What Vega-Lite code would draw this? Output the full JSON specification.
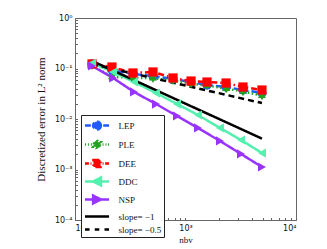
{
  "$schema": "https://vega.github.io/schema/vega-lite/v6.json",
  "autosize": {"type": "none"},
  "width": 221,
  "height": 202,
  "padding": {"left": 75, "top": 18, "right": 31, "bottom": 29},
  "background": "white",
  "config": {
    "view": {"stroke": "#666", "strokeWidth": 1},
    "axis": {"grid": false, "domainColor": "#666", "tickColor": "#666", "labelColor": "#111", "titleColor": "#111", "labelFont": "DejaVu Sans", "labelFontSize": 8, "titleFont": "Liberation Serif", "titleFontSize": 9, "titleFontWeight": "normal"}
  },
  "data": {"values": [
    {"series": "LEP", "x": 142.6, "y": 0.123},
    {"series": "LEP", "x": 216, "y": 0.0934},
    {"series": "LEP", "x": 335, "y": 0.0778},
    {"series": "LEP", "x": 508, "y": 0.071},
    {"series": "LEP", "x": 771, "y": 0.062},
    {"series": "LEP", "x": 1122, "y": 0.054},
    {"series": "LEP", "x": 1566, "y": 0.0471},
    {"series": "LEP", "x": 2329, "y": 0.043},
    {"series": "LEP", "x": 3314, "y": 0.0375},
    {"series": "LEP", "x": 4920, "y": 0.0327},
    {"series": "PLE", "x": 142.6, "y": 0.115},
    {"series": "PLE", "x": 216, "y": 0.068},
    {"series": "PLE", "x": 335, "y": 0.066},
    {"series": "PLE", "x": 508, "y": 0.064},
    {"series": "PLE", "x": 771, "y": 0.058},
    {"series": "PLE", "x": 1122, "y": 0.05},
    {"series": "PLE", "x": 1566, "y": 0.046},
    {"series": "PLE", "x": 2329, "y": 0.04},
    {"series": "PLE", "x": 3314, "y": 0.035},
    {"series": "PLE", "x": 4920, "y": 0.029},
    {"series": "DEE", "x": 142.6, "y": 0.123},
    {"series": "DEE", "x": 216, "y": 0.107},
    {"series": "DEE", "x": 335, "y": 0.0815},
    {"series": "DEE", "x": 508, "y": 0.0853},
    {"series": "DEE", "x": 771, "y": 0.0649},
    {"series": "DEE", "x": 1122, "y": 0.0565},
    {"series": "DEE", "x": 1566, "y": 0.054},
    {"series": "DEE", "x": 2329, "y": 0.0516},
    {"series": "DEE", "x": 3314, "y": 0.043},
    {"series": "DEE", "x": 4920, "y": 0.0375},
    {"series": "DDC", "x": 142.6, "y": 0.1285},
    {"series": "DDC", "x": 221, "y": 0.0853},
    {"series": "DDC", "x": 342, "y": 0.0541},
    {"series": "DDC", "x": 541, "y": 0.0327},
    {"series": "DDC", "x": 838, "y": 0.0198},
    {"series": "DDC", "x": 1297, "y": 0.012},
    {"series": "DDC", "x": 2051, "y": 0.00664},
    {"series": "DDC", "x": 3178, "y": 0.00384},
    {"series": "DDC", "x": 4920, "y": 0.00212},
    {"series": "NSP", "x": 142.6, "y": 0.112},
    {"series": "NSP", "x": 221, "y": 0.0649},
    {"series": "NSP", "x": 342, "y": 0.0343},
    {"series": "NSP", "x": 541, "y": 0.0198},
    {"series": "NSP", "x": 838, "y": 0.01146},
    {"series": "NSP", "x": 1297, "y": 0.00664},
    {"series": "NSP", "x": 2051, "y": 0.00367},
    {"series": "NSP", "x": 3178, "y": 0.00203},
    {"series": "NSP", "x": 4920, "y": 0.00112},
    {"series": "slope= −1", "x": 142.6, "y": 0.141},
    {"series": "slope= −1", "x": 4920, "y": 0.00409},
    {"series": "slope= −0.5", "x": 142.6, "y": 0.122},
    {"series": "slope= −0.5", "x": 4920, "y": 0.0207}
  ]},
  "encoding": {
    "x": {"field": "x", "type": "quantitative",
      "scale": {"type": "log", "domain": [100, 10000], "nice": false},
      "axis": {"title": "nbv", "titlePadding": 3, "labelPadding": 7,
        "values": [100,200,300,400,500,600,700,800,900,1000,2000,3000,4000,5000,6000,7000,8000,9000,10000],
        "labelExpr": "datum.value == 100 ? '10²' : datum.value == 1000 ? '10³' : datum.value == 10000 ? '10⁴' : ''",
        "tickSize": -2.5}},
    "y": {"field": "y", "type": "quantitative",
      "scale": {"type": "log", "domain": [0.0001, 1], "nice": false},
      "axis": {"title": "Discretized error in L² norm", "titleFontSize": 11, "titlePadding": 8, "labelPadding": 5.5,
        "values": [0.0001,0.0002,0.0003,0.0004,0.0005,0.0006,0.0007,0.0008,0.0009,0.001,0.002,0.003,0.004,0.005,0.006,0.007,0.008,0.009,0.01,0.02,0.03,0.04,0.05,0.06,0.07,0.08,0.09,0.1,0.2,0.3,0.4,0.5,0.6,0.7,0.8,0.9,1],
        "labelExpr": "datum.value == 1 ? '10⁰' : datum.value == 0.1 ? '10⁻¹' : datum.value == 0.01 ? '10⁻²' : datum.value == 0.001 ? '10⁻³' : datum.value == 0.0001 ? '10⁻⁴' : ''",
        "tickSize": -2.5}}
  },
  "layer": [
    {
      "mark": {"type": "line", "strokeWidth": 2.5},
      "encoding": {
        "color": {"field": "series", "type": "nominal",
          "scale": {"domain": ["LEP","PLE","DEE","DDC","NSP","slope= −1","slope= −0.5"],
                    "range": ["#1f5cff","#22a022","#ff0000","#55f0b0","#9933ff","#000000","#000000"]},
          "legend": {
            "title": null, "orient": "none", "legendX": 6, "legendY": 97,
            "fillColor": "white", "strokeColor": "#222", "padding": 2.5,
            "symbolSize": 169, "rowPadding": 0, "labelOffset": 19,
            "labelFont": "Liberation Serif", "labelFontSize": 9, "labelColor": "#111",
            "encode": {"symbols": {"update": {
              "shape": {"signal": "['M-1,0H-0.1M1.8,0H2.7M1.45,0A0.6,0.6,0,1,1,0.25,0A0.6,0.6,0,1,1,1.45,0Z', 'M-1,0H-0.85M-0.55,0H-0.4M-0.1,0H0.05M1.7,0H1.85M2.15,0H2.3M2.55,0H2.7M0.85,-0.7L1.052,-0.35L1.456,-0.35L1.254,0L1.456,0.35L1.052,0.35L0.85,0.7L0.648,0.35L0.244,0.35L0.446,0L0.244,-0.35L0.648,-0.35Z', 'M-1,0H-0.4M-0.15,0H0M1.7,0H1.85M2.1,0H2.7M0.3,-0.55H1.4V0.55H0.3Z', 'M-1,0H2.7M0.25,0L1.45,-0.6L1.45,0.6Z', 'M-1,0H2.7M1.45,0L0.25,-0.6L0.25,0.6Z', 'M-1,0H2.7', 'M-1,0H-0.3M0.5,0H1.2M2,0H2.7'][datum.index]"},
              "strokeWidth": {"value": 2.5},
              "strokeDash": {"value": []},
              "fill": {"signal": "scale('color', datum.value)"},
              "stroke": {"signal": "scale('color', datum.value)"},
              "fillOpacity": {"value": 1},
              "strokeOpacity": {"value": 1},
              "opacity": {"value": 1}
            }}}
          }},
        "strokeDash": {"field": "series", "type": "nominal",
          "scale": {"domain": ["LEP","PLE","DEE","DDC","NSP","slope= −1","slope= −0.5"],
                    "range": [[6,3],[1.5,2.5],[6,3,1.5,3],[1,0],[1,0],[1,0],[6,4]]},
          "legend": null}
      }
    },
    {
      "transform": [{"filter": "indexof(['LEP','PLE','DEE','DDC','NSP'], datum.series) >= 0"}],
      "mark": {"type": "point", "filled": true, "opacity": 1, "strokeWidth": 1},
      "encoding": {
        "color": {"field": "series", "type": "nominal"},
        "shape": {"field": "series", "type": "nominal",
          "scale": {"domain": ["LEP","PLE","DEE","DDC","NSP"],
                    "range": ["circle", "M0,-1L0.289,-0.5L0.866,-0.5L0.577,0L0.866,0.5L0.289,0.5L0,1L-0.289,0.5L-0.866,0.5L-0.577,0L-0.866,-0.5L-0.289,-0.5Z", "square", "triangle-left", "triangle-right"]},
          "legend": null},
        "size": {"value": 85}
      }
    }
  ]
}
